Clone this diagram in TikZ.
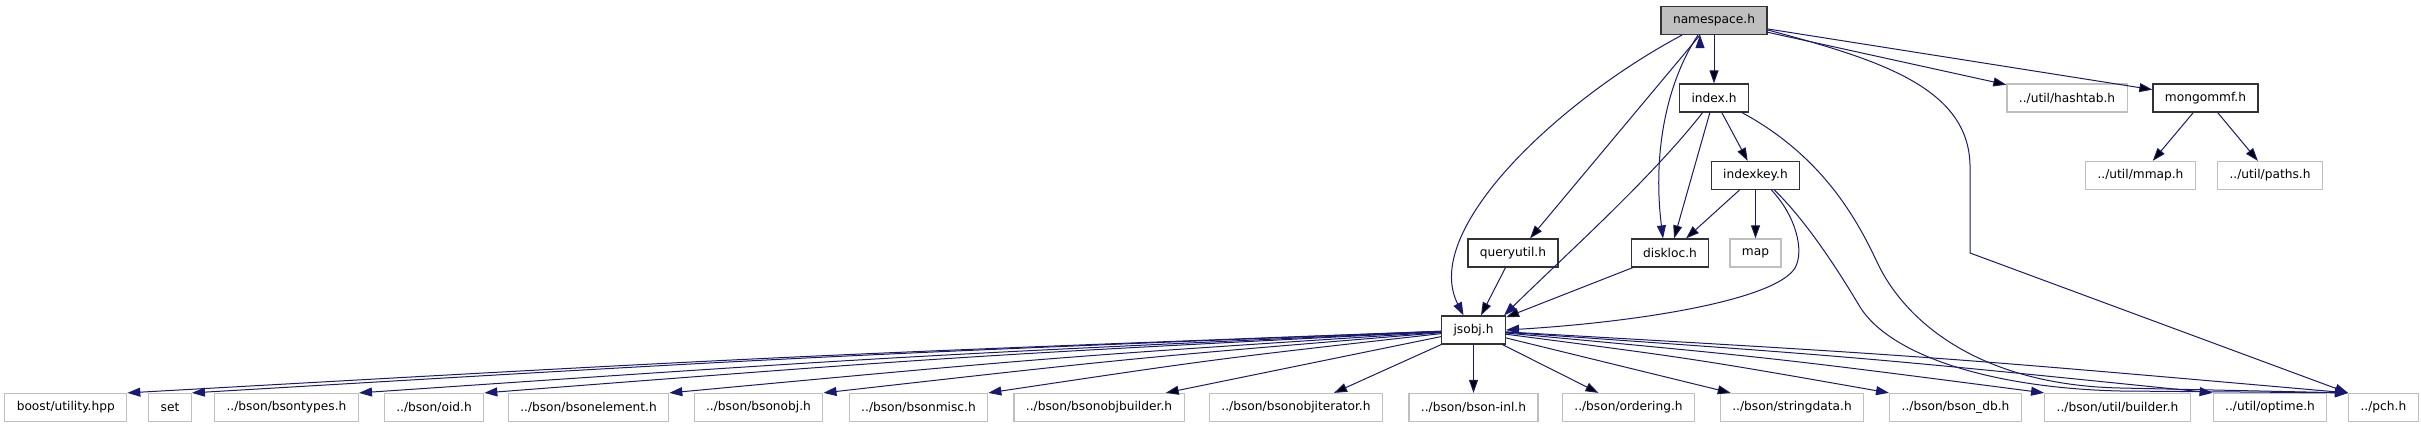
\documentclass[tikz,border=0pt]{standalone}
\usepackage{fontspec}
\setmainfont{DejaVu Sans}
\usetikzlibrary{arrows.meta}
\definecolor{edgeblue}{HTML}{191970}
\definecolor{nodegray}{HTML}{BFBFBF}
\tikzset{>={Triangle[length=13pt, width=9pt]},
  file/.style={draw=black!80, line width=1.2pt, fill=white, minimum height=28pt,
    inner xsep=12pt, inner ysep=0pt, font=\fontsize{12.2}{14}\selectfont},
  sys/.style={file, draw=nodegray},
  root/.style={file, fill=nodegray},
  dep/.style={->, draw=edgeblue, line width=1pt}}

\begin{document}
\begin{tikzpicture}[x=1pt, y=-1pt]
    \useasboundingbox (0,0) rectangle (2421,427);

    \node[root] (1) at (1714,20.5) {namespace.h};
    \node[file] (2) at (1714,98) {index.h};
    \node[sys]  (3) at (2067,98) {../util/hashtab.h};
    \node[file] (4) at (2205.5,98) {mongommf.h};
    \node[file] (5) at (1755.5,175.5) {indexkey.h};
    \node[sys]  (6) at (2140.5,175.5) {../util/mmap.h};
    \node[sys]  (7) at (2270,175.5) {../util/paths.h};
    \node[file] (8) at (1513,253) {queryutil.h};
    \node[file] (9) at (1670,253) {diskloc.h};
    \node[sys]  (10) at (1755.5,253) {map};
    \node[file] (11) at (1473.5,330) {jsobj.h};

    % bottom row
    \node[sys] (12) at (65.75,407.5) {boost/utility.hpp};
    \node[sys] (13) at (170,407.5) {set};
    \node[sys] (14) at (286.5,407.5) {../bson/bsontypes.h};
    \node[sys] (15) at (434,407.5) {../bson/oid.h};
    \node[sys] (16) at (588.5,407.5) {../bson/bsonelement.h};
    \node[sys] (17) at (758.5,407.5) {../bson/bsonobj.h};
    \node[sys] (18) at (918.5,407.5) {../bson/bsonmisc.h};
    \node[sys] (19) at (1099,407.5) {../bson/bsonobjbuilder.h};
    \node[sys] (20) at (1296,407.5) {../bson/bsonobjiterator.h};
    \node[sys] (21) at (1473.5,407.5) {../bson/bson-inl.h};
    \node[sys] (22) at (1628.5,407.5) {../bson/ordering.h};
    \node[sys] (23) at (1792,407.5) {../bson/stringdata.h};
    \node[sys] (24) at (1955.5,407.5) {../bson/bson\_db.h};
    \node[sys] (25) at (2117.5,407.5) {../bson/util/builder.h};
    \node[sys] (26) at (2270,407.5) {../util/optime.h};
    \node[sys] (27) at (2383.4,407.5) {../pch.h};

    \draw[dep] (1) edge (2) (1) edge (3) (1) edge (4)
          ([xshift=-14pt]1.south) edge ([xshift=17pt]8.north)
          (2) edge (5) (2) edge (9)
          (4) edge (6) (4) edge (7)
          (5) edge (9) (5) edge (10)
          (8) edge (11) (9) edge (11);

    % long includes
    \draw[dep] ([xshift=-32pt]1.south) .. controls (1560,100) and (1420,230) .. ([xshift=-10pt]11.north);
    \draw[dep] ([xshift=-16pt]1.south) .. controls (1668,80) and (1652,150) .. ([xshift=-7pt]9.north);
    \draw[dep] (1.-10) .. controls (1880,60) and (1972,88) .. (1970,170) -- (1970,253) -- (27.north west);
    \draw[dep] (2) .. controls (1650,180) and (1560,260) .. ([xshift=-2pt]11.north east);
    \draw[dep] ([xshift=28pt]2.south) .. controls (1820,155) and (1855,215) .. (1877,262)
          .. controls (1905,322) and (1980,385) .. (2120,388) -- (27.north west);
    \draw[dep] ([xshift=16pt]5.south) .. controls (1795,215) and (1805,250) .. (1795,268)
          .. controls (1775,300) and (1640,322) .. (11.east);
    \draw[dep] ([xshift=19pt]5.south) .. controls (1805,220) and (1835,265) .. (1860,307)
          .. controls (1890,355) and (1990,388) .. (2120,391) -- (27.north west);

    % jsobj.h fan
    \draw[dep] (11) .. controls (784,356) .. (12.north east);
    \draw[dep] (11) .. controls (816,356) .. (13.north east);
    \draw[dep] (11) .. controls (901,356) .. (14.north east);
    \draw[dep] (11) .. controls (963,356) .. (15.north east);
    \draw[dep] (11) .. controls (1056,357) .. (16.north east);
    \draw[dep] (11) .. controls (1133,358) .. (17.north east);
    \draw[dep] (11) .. controls (1215,359) .. (18.north east);
    \draw[dep] (11) edge ([xshift=-19pt]19.north east)
          (11) edge ([xshift=38pt]20.north)
          (11) edge (21)
          (11) edge ([xshift=-30pt]22.north)
          (11) edge ([xshift=11pt]23.north west);
    \draw[dep] (11) .. controls (1696,359) .. (24.north west);
    \draw[dep] (11) .. controls (1775,358) .. (25.north west);
    \draw[dep] (11) .. controls (1860,357) .. (26.north west);
    \draw[dep] (11) .. controls (1927,356) .. (27.north west);
\end{tikzpicture}
\end{document}
